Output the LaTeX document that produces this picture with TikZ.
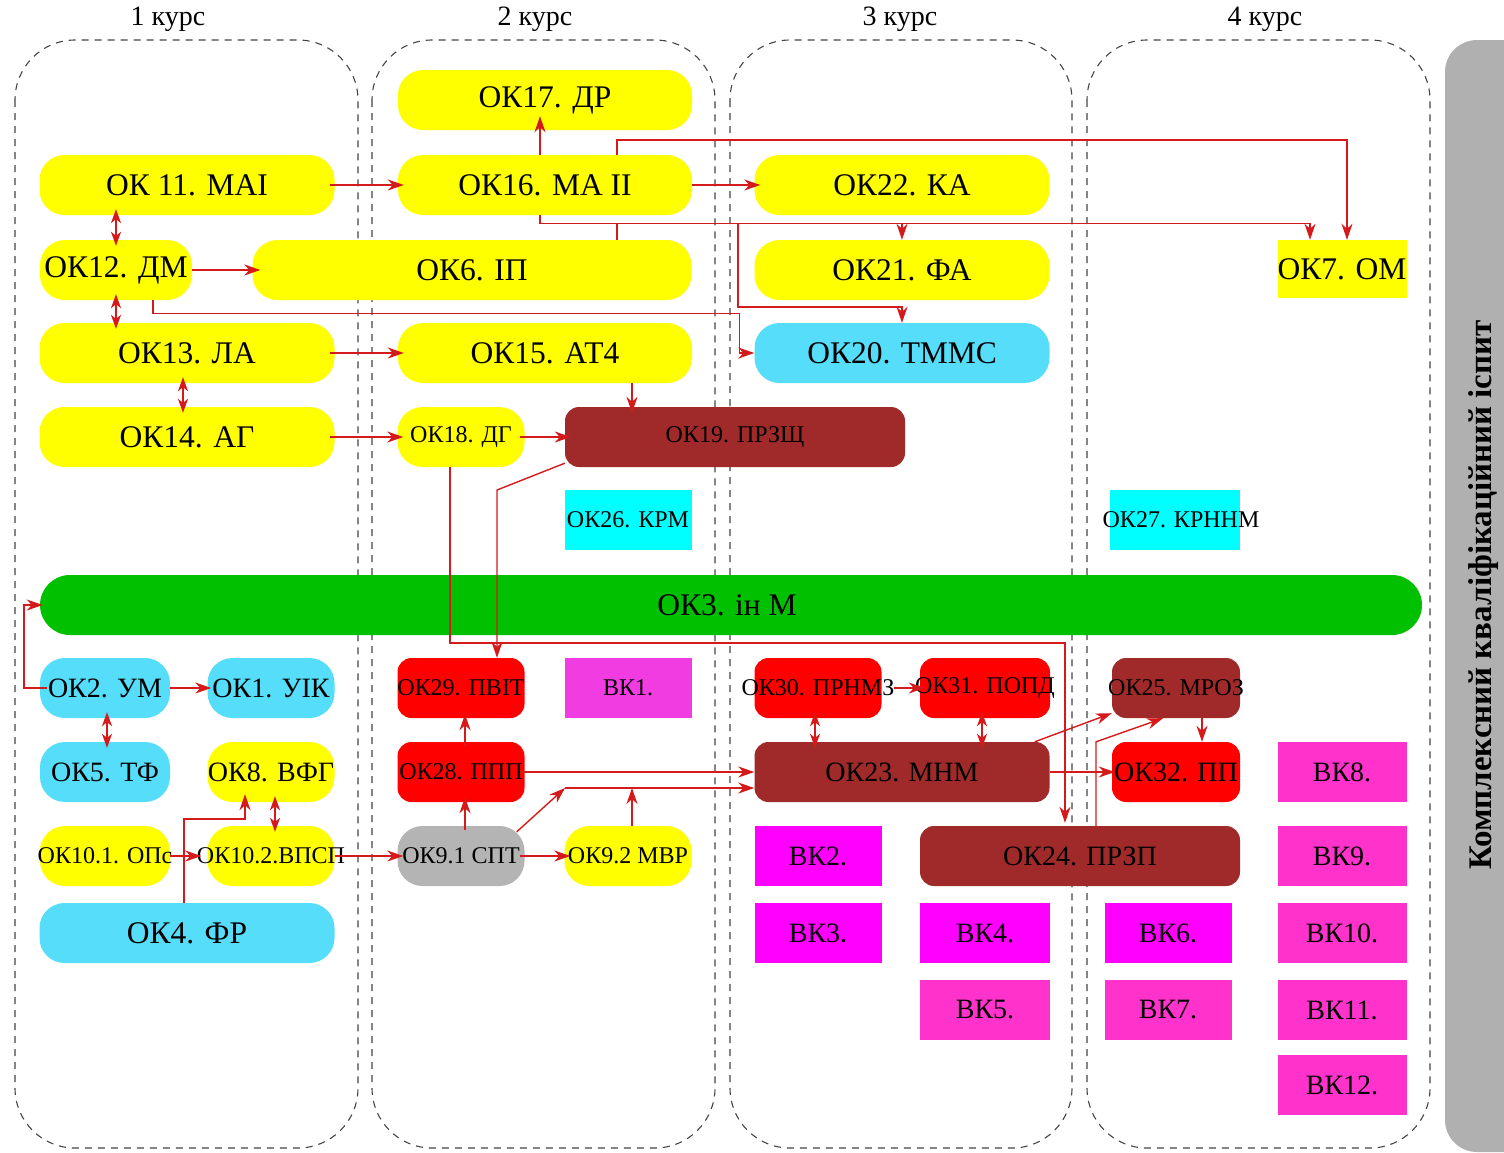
\documentclass[tikz,border=0pt]{standalone}
\usepackage{fontspec}
\setmainfont{Liberation Serif}
\usetikzlibrary{arrows.meta,calc}
\definecolor{cyel}{HTML}{FFFF00}
\definecolor{clblue}{HTML}{55DDFA}
\definecolor{ccyan}{HTML}{00FFFF}
\definecolor{cgreen}{HTML}{00C000}
\definecolor{cbrown}{HTML}{A02A2A}
\definecolor{cred}{HTML}{FF0000}
\definecolor{cgraybox}{HTML}{B4B4B4}
\definecolor{cmag}{HTML}{FF00FF}
\definecolor{cpink}{HTML}{FF33CC}
\definecolor{cpinkb}{HTML}{F03CE0}
\definecolor{cbar}{HTML}{B0B0B0}
\definecolor{cline}{HTML}{D41A1A}
\definecolor{cdash}{HTML}{444444}
\newcommand\zwbox[1]{\makebox[0pt]{#1}}
\begin{document}
\begin{tikzpicture}[x=1pt,y=-1pt,
  fbig/.style={font=\fontsize{31.5}{36}\selectfont},
  fmed/.style={font=\fontsize{28}{32}\selectfont},
  fsml/.style={font=\fontsize{24}{28}\selectfont},
  box/.style={inner sep=0pt, minimum height=60pt, text=black},
  yb/.style={box, fill=cyel, rounded corners=25pt},
  lb/.style={box, fill=clblue, rounded corners=25pt},
  gb/.style={box, fill=cgreen, rounded corners=30pt},
  gyb/.style={box, fill=cgraybox, rounded corners=25pt},
  brb/.style={box, fill=cbrown, rounded corners=14pt},
  rdb/.style={box, fill=cred, rounded corners=14pt},
  cyb/.style={box, fill=ccyan},
  yrect/.style={box, fill=cyel},
  mgb/.style={box, fill=cmag},
  pkb/.style={box, fill=cpink},
  colbox/.style={draw=cdash, line width=1.1pt, dash pattern=on 7pt off 6pt, rounded corners=60pt},
  hdr/.style={font=\fontsize{28}{32}\selectfont},
  con/.style={draw=cline, line width=1.4pt},
  arr/.style={con, -{Stealth[length=16pt,width=11pt,inset=5pt]}},
  darr/.style={con, {Stealth[length=14pt,width=10pt,inset=4pt]}-{Stealth[length=14pt,width=10pt,inset=4pt]}, shorten <=-6pt, shorten >=-6pt}
]
\useasboundingbox (0,0) rectangle (1504,1152);
\clip (0,0) rectangle (1504,1152);

% column frames
\draw[colbox] (15,40) rectangle (358,1148);
\draw[colbox] (372,40) rectangle (715,1148);
\draw[colbox] (730,40) rectangle (1072,1148);
\draw[colbox] (1087,40) rectangle (1430,1148);

% headers
\node[hdr] (h1) at (168,19) {1 курс};
\node[hdr] (h2) at (535,19) {2 курс};
\node[hdr] (h3) at (900,19) {3 курс};
\node[hdr] (h4) at (1265,19) {4 курс};

% exam bar
\fill[cbar, rounded corners=32pt] (1445,40) rectangle (1545,1152);
\node[rotate=90, font=\fontsize{33}{36}\selectfont\bfseries] (exam) at (1484,595) {Комплексний кваліфікаційний іспит};

% nodes
\node[yb, fbig, minimum width=294pt] (ok17) at (545,100) {\zwbox{ОК17. ДР}};
\node[yb, fbig, minimum width=295pt] (ok11) at (187,185) {\zwbox{ОК 11. МАІ}};
\node[yb, fbig, minimum width=294pt] (ok16) at (545,185) {\zwbox{ОК16. МА ІІ}};
\node[yb, fbig, minimum width=295pt] (ok22) at (902,185) {\zwbox{ОК22. КА}};
\node[yb, fbig, minimum width=152pt] (ok12) at (116,270) {\zwbox{ОК12. ДМ}};
\node[yb, fbig, minimum width=439pt] (ok6) at (472,270) {\zwbox{ОК6. ІП}};
\node[yb, fbig, minimum width=295pt] (ok21) at (902,270) {\zwbox{ОК21. ФА}};
\node[yrect, fbig, minimum width=129pt, minimum height=58pt] (ok7) at (1342,269) {\zwbox{ОК7. ОМ}};
\node[yb, fbig, minimum width=295pt] (ok13) at (187,353) {\zwbox{ОК13. ЛА}};
\node[yb, fbig, minimum width=294pt] (ok15) at (545,353) {\zwbox{ОК15. АТ4}};
\node[lb, fbig, minimum width=295pt] (ok20) at (902,353) {\zwbox{ОК20. ТММС}};
\node[yb, fbig, minimum width=295pt] (ok14) at (187,437) {\zwbox{ОК14. АГ}};
\node[yb, fsml, minimum width=127pt] (ok18) at (461,437) {\zwbox{ОК18. ДГ}};
\node[brb, fsml, minimum width=340pt] (ok19) at (735,437) {\zwbox{ОК19. ПРЗЩ}};
\node[cyb, fsml, minimum width=127pt] (ok26) at (628,520) {\zwbox{ОК26. КРМ}};
\node[cyb, fsml, minimum width=130pt] (ok27) at (1175,520) {\zwbox{\hspace*{12pt}ОК27. КРННМ}};
\node[gb, fbig, minimum width=1382pt] (ok3) at (731,605) {\zwbox{\hspace*{-8pt}ОК3. ін М}};
\node[lb, fmed, minimum width=130pt] (ok2) at (105,688) {\zwbox{ОК2. УМ}};
\node[lb, fmed, minimum width=127pt] (ok1) at (271,688) {\zwbox{ОК1. УІК}};
\node[rdb, fsml, minimum width=127pt] (ok29) at (461,688) {\zwbox{ОК29. ПВІТ}};
\node[box, fill=cpinkb, fsml, minimum width=127pt] (vk1) at (628,688) {\zwbox{ВК1.}};
\node[rdb, fsml, minimum width=127pt] (ok30) at (818,688) {\zwbox{ОК30. ПРНМЗ}};
\node[rdb, fsml, minimum width=130pt] (ok31) at (985,688) {\zwbox{ОК31. ПОПД}};
\node[brb, fsml, minimum width=128pt] (ok25) at (1176,688) {\zwbox{ОК25. МРОЗ}};
\node[lb, fmed, minimum width=130pt] (ok5) at (105,772) {\zwbox{ОК5. ТФ}};
\node[yb, fmed, minimum width=127pt] (ok8) at (271,772) {\zwbox{ОК8. ВФГ}};
\node[rdb, fsml, minimum width=127pt] (ok28) at (461,772) {\zwbox{ОК28. ППП}};
\node[brb, fmed, minimum width=295pt] (ok23) at (902,772) {\zwbox{ОК23. МНМ}};
\node[rdb, fmed, minimum width=128pt] (ok32) at (1176,772) {\zwbox{ОК32. ПП}};
\node[pkb, fmed, minimum width=129pt] (vk8) at (1342,772) {\zwbox{ВК8.}};
\node[yb, fsml, minimum width=130pt] (ok101) at (105,856) {\zwbox{ОК10.1. ОПс}};
\node[yb, fsml, minimum width=127pt] (ok102) at (271,856) {\zwbox{ОК10.2.ВПСП}};
\node[gyb, fsml, minimum width=127pt] (ok91) at (461,856) {\zwbox{ОК9.1 СПТ}};
\node[yb, fsml, minimum width=127pt] (ok92) at (628,856) {\zwbox{ОК9.2 МВР}};
\node[mgb, fmed, minimum width=127pt] (vk2) at (818,856) {\zwbox{ВК2.}};
\node[brb, fmed, minimum width=320pt] (ok24) at (1080,856) {\zwbox{ОК24. ПРЗП}};
\node[pkb, fmed, minimum width=129pt] (vk9) at (1342,856) {\zwbox{ВК9.}};
\node[lb, fbig, minimum width=295pt] (ok4) at (187,933) {\zwbox{ОК4. ФР}};
\node[mgb, fmed, minimum width=127pt] (vk3) at (818,933) {\zwbox{ВК3.}};
\node[mgb, fmed, minimum width=130pt] (vk4) at (985,933) {\zwbox{ВК4.}};
\node[mgb, fmed, minimum width=127pt] (vk6) at (1168,933) {\zwbox{ВК6.}};
\node[pkb, fmed, minimum width=129pt] (vk10) at (1342,933) {\zwbox{ВК10.}};
\node[pkb, fmed, minimum width=130pt] (vk5) at (985,1010) {\zwbox{ВК5.}};
\node[pkb, fmed, minimum width=127pt] (vk7) at (1168,1010) {\zwbox{ВК7.}};
\node[pkb, fmed, minimum width=129pt] (vk11) at (1342,1010) {\zwbox{ВК11.}};
\node[pkb, fmed, minimum width=129pt] (vk12) at (1342,1085) {\zwbox{ВК12.}};

% helper coordinates
\coordinate (busA) at (738,223);
\coordinate (c18) at (1065,643);
\coordinate (c19) at (497,490);
\coordinate (c4) at (245,819);
\coordinate (c91) at (565,788);

% connectors: top area
\draw[arr] ([xshift=-5pt]ok11.east) -- ([xshift=6pt]ok16.west);
\draw[arr] (ok16.east) -- ([xshift=6pt]ok22.west);
\draw[arr] ([xshift=-5pt]ok16.north) -- ([xshift=-5pt,yshift=14pt]ok17.south);
\draw[arr] ([xshift=72pt]ok16.north) -- ++(0,-15) -| ([xshift=5pt]ok7.north);
\draw[arr] ([xshift=-5pt]ok16.south) -- ++(0,8) -| ([xshift=-32pt]ok7.north);
\draw[con] ([xshift=145pt]ok6.north) -- ++(0,-17);
\draw[arr] ([yshift=17pt]ok21.north) -- (ok21.north);
\draw[arr] (busA) |- ([yshift=16pt]ok20.north) -- (ok20.north);
\draw[arr] ([xshift=37pt]ok12.south) -- ++(0,13) -| ([xshift=-15pt]ok20.west) -- (ok20.west);
\draw[arr] (ok12.east) -- ([xshift=8pt]ok6.west);
\draw[darr] (ok11.south -| ok12.north) -- (ok12.north);
\draw[darr] (ok12.south) -- (ok13.north -| ok12.south);
\draw[darr] ([xshift=-4pt]ok13.south) -- ([xshift=-4pt]ok14.north);
\draw[arr] ([xshift=-5pt]ok13.east) -- ([xshift=6pt]ok15.west);
\draw[arr] ([xshift=-5pt]ok14.east) -- ([xshift=6pt]ok18.west);
\draw[arr] ([xshift=-5pt]ok18.east) -- ([xshift=6pt]ok19.west);
\draw[arr] ([xshift=87pt]ok15.south) -- ([xshift=-103pt,yshift=-6pt]ok19.north);
\draw[arr] ([xshift=-11pt]ok18.south) |- (c18) -- ([yshift=3pt]c18 |- ok24.north);
\draw[arr] ([yshift=4pt]ok19.south west) -- (c19) -- (c19 |- ok29.north);

% connectors: lower area
\draw[arr] ([xshift=7pt]ok2.west) -- ++(-23,0) |- ([xshift=3pt]ok3.west);
\draw[arr] (ok2.east) -- ([xshift=4pt]ok1.west);
\draw[darr] ([xshift=2pt]ok2.south) -- ([xshift=2pt]ok5.north);
\draw[darr] ([xshift=4pt]ok8.south) -- ([xshift=4pt]ok102.north);
\draw[arr] (ok101.east) -- ([xshift=-6pt]ok102.west);
\draw[arr, shorten >=-8pt] ([xshift=-3pt]ok4.north) |- (c4) -- (c4 |- ok8.south);
\draw[arr] (ok102.east) -- ([xshift=6pt]ok91.west);
\draw[arr] ([xshift=-5pt]ok91.east) -- ([xshift=6pt]ok92.west);
\draw[arr] ([xshift=4pt,yshift=-4pt]ok91.north) -- ([xshift=4pt,yshift=5pt]ok28.south);
\draw[arr] ([xshift=4pt,yshift=-4pt]ok28.north) -- ([xshift=4pt,yshift=4pt]ok29.south);
\draw[arr] ([xshift=-5pt]ok28.east) -- (ok28.east -| ok23.west);
\draw[arr] ([xshift=-8pt,yshift=-6pt]ok91.north east) -- (c91);
\draw[arr] (c91) -- (c91 -| ok23.west);
\draw[arr] ([xshift=4pt]ok92.north) -- ([xshift=4pt]ok92.north |- c91);
\draw[arr] ([xshift=12pt]ok30.east) -- ([xshift=5pt]ok31.west);
\draw[darr] ([xshift=-3pt]ok30.south) -- ([xshift=-3pt]ok30.south |- ok23.north);
\draw[darr] ([xshift=-3pt]ok31.south) -- ([xshift=-3pt]ok31.south |- ok23.north);
\draw[arr] ([xshift=-15pt]ok23.north east) -- ([yshift=5pt]ok25.south west);
\draw[arr] ([xshift=16pt]ok24.north) -- ++(0,-84) -- ([xshift=-13pt]ok25.south);
\draw[arr] ([xshift=26pt]ok25.south) -- ([xshift=26pt]ok32.north);
\draw[arr] (ok23.east) -- ([xshift=3pt]ok32.west);
\end{tikzpicture}
\end{document}
